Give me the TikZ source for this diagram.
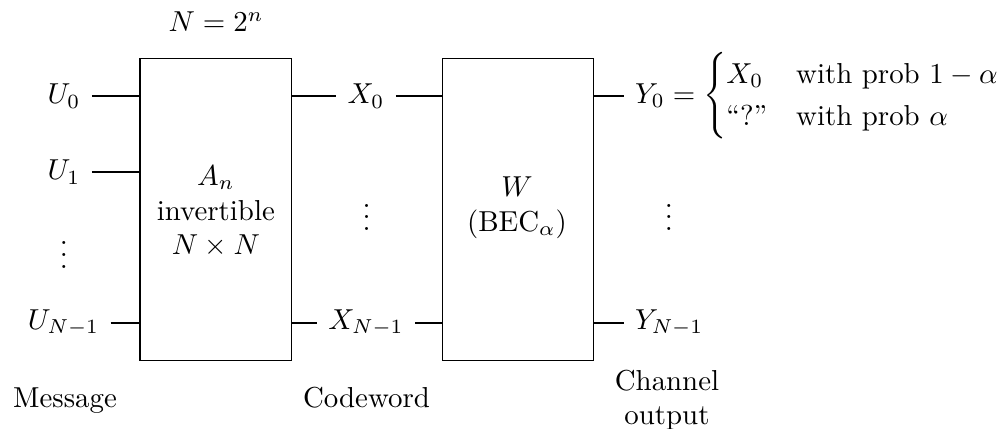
\documentclass[tikz,border=0pt]{standalone}
\usepackage{amsmath}
\begin{document}
\begin{tikzpicture}[x=0.3465pt, y=-0.3465pt,
  block/.style={draw, line width=0.4pt, inner sep=0pt},
  sig/.style={inner sep=3.8pt},
  wire/.style={line width=0.4pt}]
\useasboundingbox (0,0) rectangle (1005,429);

% the two blocks
\node[block, minimum width=151.7*0.3465pt, minimum height=302.4*0.3465pt]
  (A) at (215.9,209.5) {};
\node[align=center] (Atxt) at (215.9,211.5) {$A_n$\\ invertible\\ $N\times N$};
\node[block, minimum width=150.6*0.3465pt, minimum height=302.4*0.3465pt]
  (W) at (518,209.5) {};
\node[align=center] (Wtxt) at (517,207.5) {$W$\\ $(\mathrm{BEC}_\alpha)$};

\node (Nn) at (216,22) {$N = 2^n$};

% message inputs
\node[sig] (U0) at (64,96) {$U_0$};
\node[sig] (U1) at (64,172) {$U_1$};
\node (Ud) at (64,246.3) {$\vdots$};
\node[sig] (UN) at (63.5,323) {$U_{N-1}$};

% codeword symbols
\node[sig] (X0) at (366,96) {$X_0$};
\node (Xd) at (366.7,208.8) {$\vdots$};
\node[sig] (XN) at (366,323) {$X_{N-1}$};

% channel outputs
\node[sig, anchor=west] (Y0) at (623.5,96)
  {$Y_0 = \begin{cases} X_0 & \text{with prob } 1-\alpha\\
                        \text{``?''} & \text{with prob } \alpha \end{cases}$};
\node (Yd) at (669,208.8) {$\vdots$};
\node[sig, anchor=west] (YN) at (623.5,323) {$Y_{N-1}$};

% captions
\node[anchor=base] (msg) at (65,408) {Message};
\node[anchor=base] (cw) at (366.5,408) {Codeword};
\node[align=center] (co) at (667,400) {Channel\\ output};

% wires
\draw[wire] (U0) -- (U0 -| A.west);
\draw[wire] (U1) -- (U1 -| A.west);
\draw[wire] (UN) -- (UN -| A.west);
\draw[wire] (X0 -| A.east) -- (X0);
\draw[wire] (X0) -- (X0 -| W.west);
\draw[wire] (XN -| A.east) -- (XN);
\draw[wire] (XN) -- (XN -| W.west);
\draw[wire] (Y0.west -| W.east) -- (Y0.west);
\draw[wire] (YN.west -| W.east) -- (YN.west);
\end{tikzpicture}
\end{document}
